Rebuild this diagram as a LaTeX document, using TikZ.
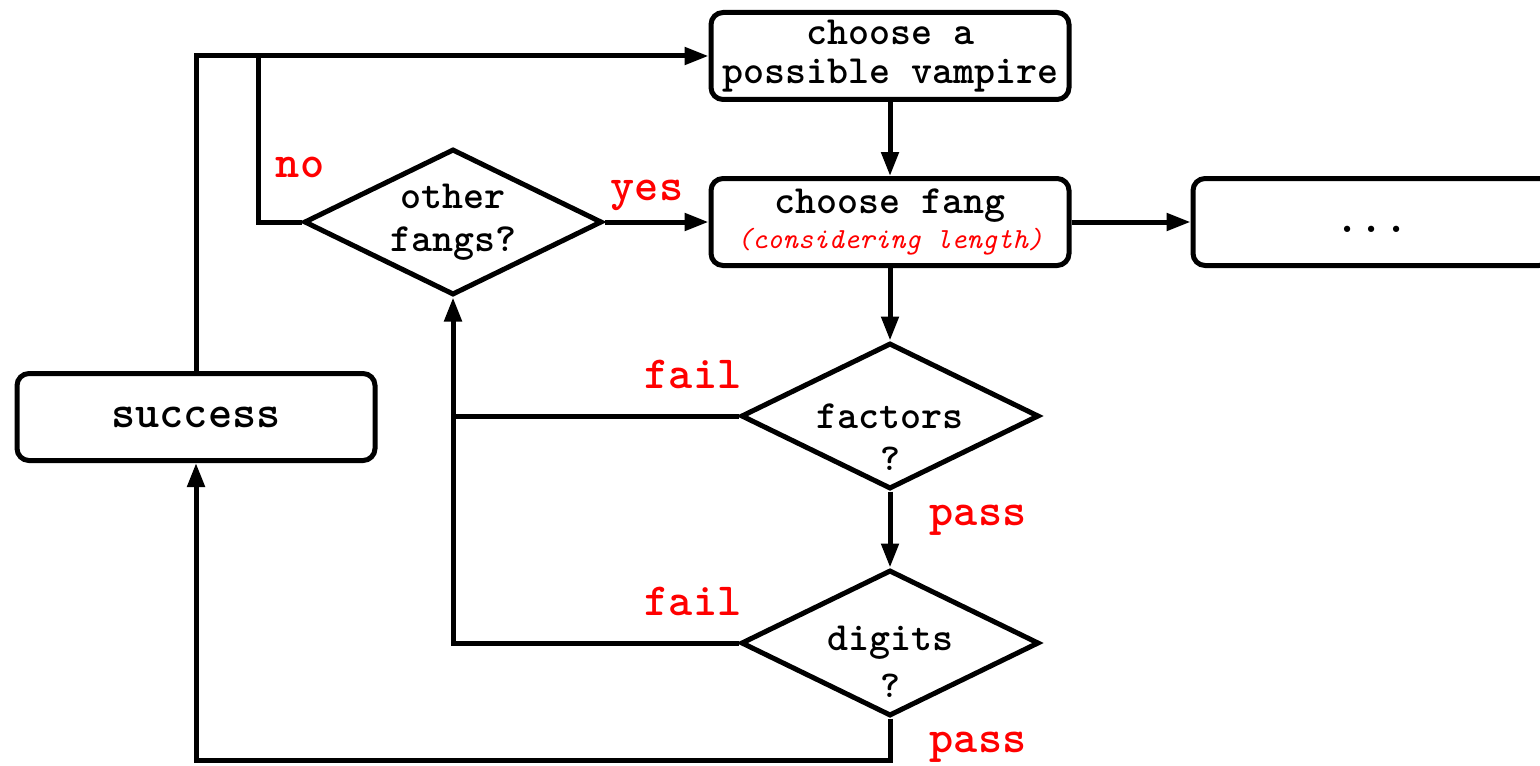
\documentclass[tikz,border=0pt]{standalone}
\usepackage{fontspec}
\usetikzlibrary{shapes.geometric,arrows.meta}

\begin{document}
\begin{tikzpicture}
		[x=0.5pt, y=-0.5pt,
		every node/.style={font=\ttfamily\bfseries\fontsize{20}{19.5}\selectfont},
		bigtext/.style={font=\ttfamily\bfseries\fontsize{23}{24}\selectfont},
		stepbox/.style={draw, line width=2.5pt, rounded corners=6pt, minimum width=179pt, minimum height=43.5pt, inner sep=0pt, align=center},
		test/.style={draw, diamond, line width=2.5pt, shape aspect=2, minimum width=149pt, minimum height=73pt, inner sep=0pt, align=center},
		qmark/.style={font=\ttfamily\bfseries\fontsize{19}{20}\selectfont},
		answer/.style={bigtext, text=red, anchor=base},
		wire/.style={line width=2.5pt},
		flow/.style={wire, -{Triangle[length=12pt, width=8.5pt]}},
		every edge/.style={draw, flow}
		]
		\useasboundingbox (0,0) rectangle (1540,765);
		\clip (0,0) rectangle (1540,765);
		\begin{scope}
			\node[stepbox] (vamp) at (890,56) {choose a\\possible vampire};
			\node[stepbox] (fang) at (890,222) {choose fang\\[-2pt]\textcolor{red}{\mdseries\itshape\fontsize{14.6}{15}\selectfont(considering length)}};
			\node[stepbox, bigtext, text height=10pt] (more) at (1372,222) {...};
			\node[test] (other) at (453,222) {other\\[2pt]fangs?};
			\node[test] (fact) at (890,416) {factors};
			\node[qmark] (factq) at (890,459) {?};
			\node[test] (dig) at (890,643) {digits};
			\node[qmark] (digq) at (890,686) {?};
			\node[stepbox, bigtext] (succ) at (196,417) {success};
		\end{scope}
		% answers on the branches
		\node[answer] (no) at (300,177) {no};
		\node[answer] (yes) at (647,200) {yes};
		\node[answer] (failA) at (693,388) {fail};
		\node[answer] (passA) at (978,525) {pass};
		\node[answer] (failB) at (693,615) {fail};
		\node[answer] (passB) at (978,752) {pass};
		% joins of the return lines
		\coordinate (topjoin) at (258,56);
		\coordinate (failjoin) at (other.south |- fact.west);
		\coordinate (low) at (890,760);
		\draw (vamp) edge (fang);
		\draw (other.east) edge (fang.west);
		\draw (fang) edge (more);
		\draw (fang) edge (fact);
		\draw (fact) edge (dig);
		\draw[flow] (fact.west) -| (other.south);
		\draw[wire] (dig.west) -| (failjoin);
		\draw[flow] (succ.north) |- (vamp.west);
		\draw[wire] (other.west) -| (topjoin);
		\draw[flow] (dig.south) -- (low) -| (succ.south);
	\end{tikzpicture}
\end{document}
